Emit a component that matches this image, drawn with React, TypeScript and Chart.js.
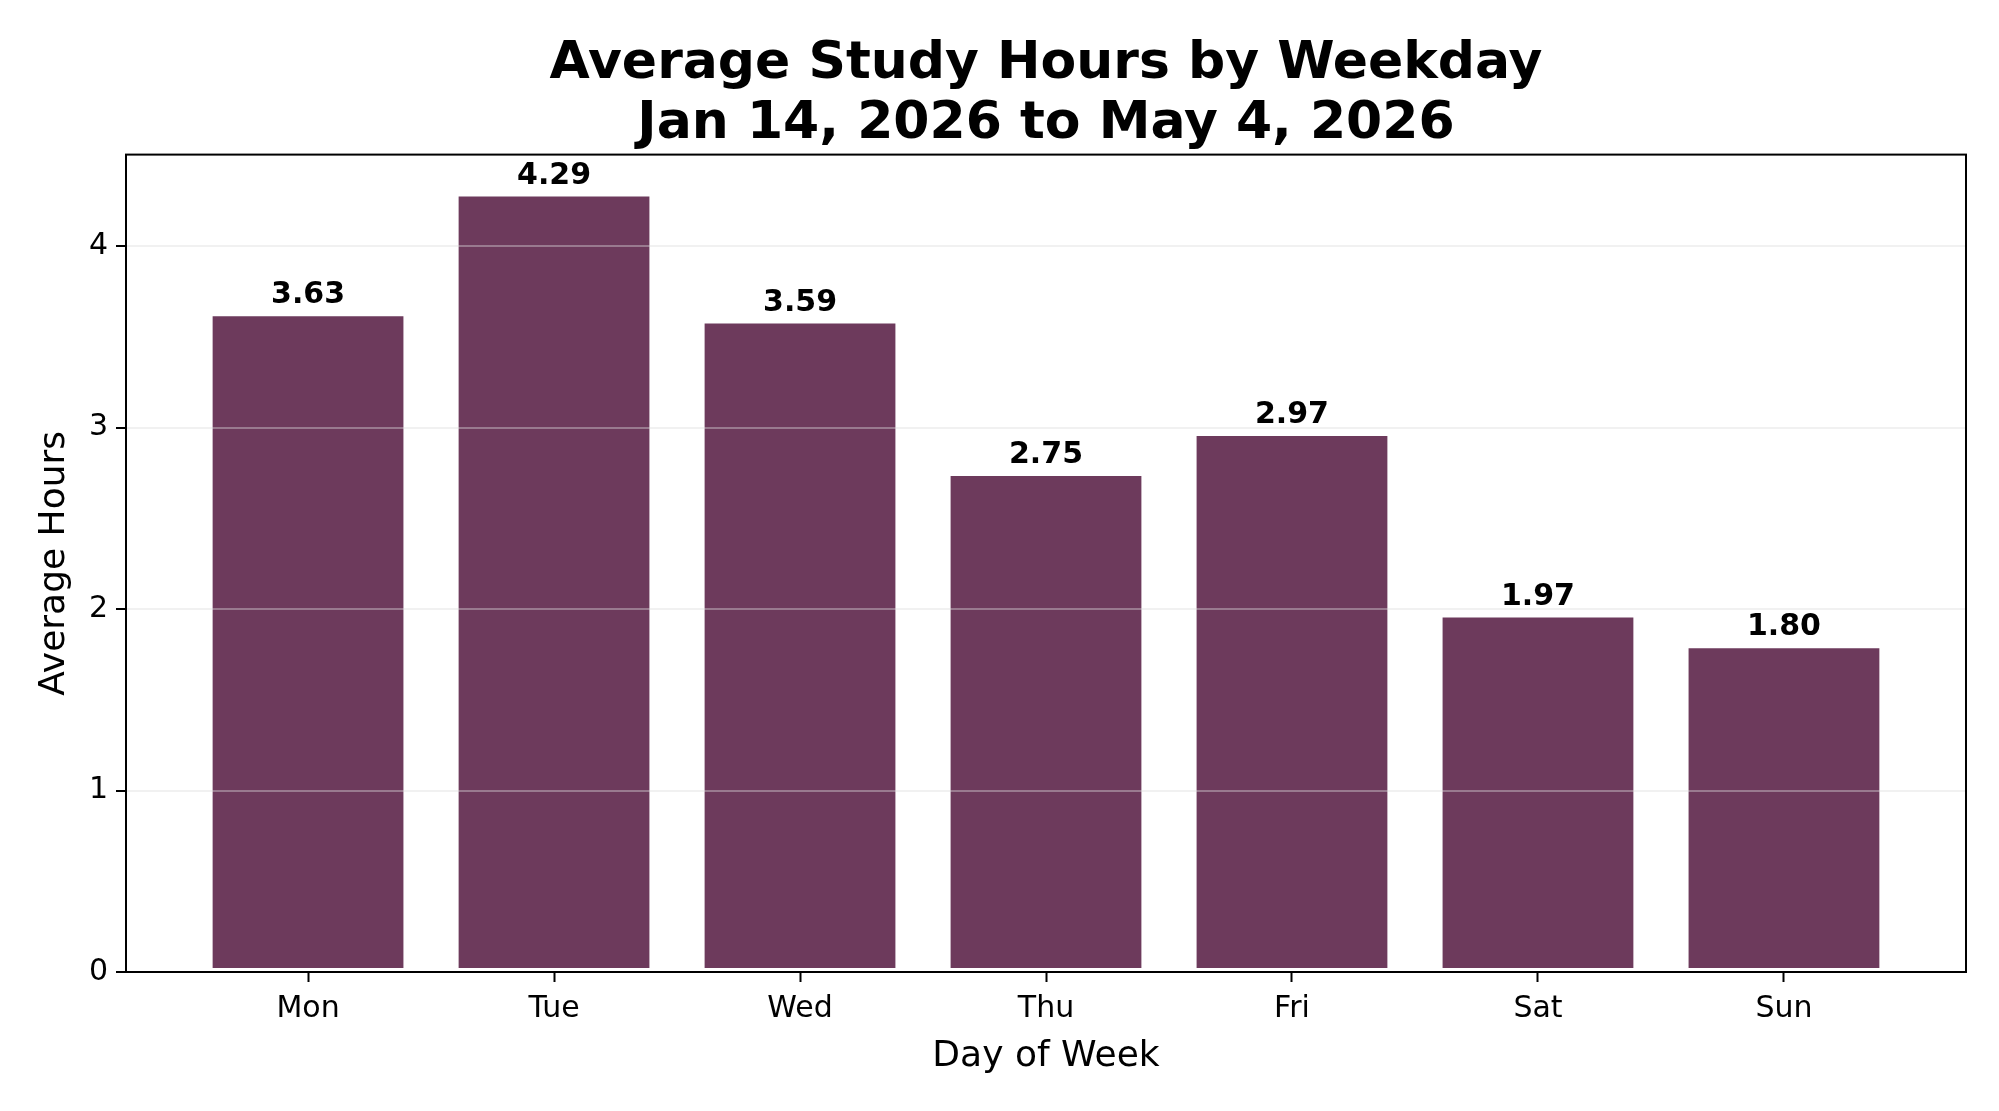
import React, { useEffect, useRef } from "react";
import { Chart, ChartConfiguration, Plugin, registerables } from "chart.js";

Chart.register(...registerables);

const days = ["Mon", "Tue", "Wed", "Thu", "Fri", "Sat", "Sun"];
const avgHours = [3.63, 4.29, 3.59, 2.75, 2.97, 1.97, 1.8];
const yTicks = [0, 1, 2, 3, 4];
const titleLines = ["Average Study Hours by Weekday", "Jan 14, 2026 to May 4, 2026"];

const FONT = "'DejaVu Sans', Verdana, sans-serif";
const BAR_COLOR = "#6d3a5c";

// box round the plot area (matplotlib style spines)
const framePlugin: Plugin<"bar"> = {
  id: "frame",
  afterDraw(chart) {
    const { ctx, chartArea: a } = chart;
    ctx.save();
    ctx.strokeStyle = "#000";
    ctx.lineWidth = 2;
    ctx.strokeRect(a.left, a.top, a.right - a.left, a.bottom - a.top);
    ctx.restore();
  },
};

// value text above every bar
const valueLabelPlugin: Plugin<"bar"> = {
  id: "valueLabels",
  afterDraw(chart) {
    const { ctx } = chart;
    const meta = chart.getDatasetMeta(0);
    ctx.save();
    ctx.fillStyle = "#000";
    ctx.font = `bold 30px ${FONT}`;
    ctx.textAlign = "center";
    ctx.textBaseline = "alphabetic";
    meta.data.forEach((bar, i) => {
      ctx.fillText(avgHours[i].toFixed(2), bar.x, bar.y - 10);
    });
    ctx.restore();
  },
};

const App: React.FC = () => {
  const chartRef = useRef<HTMLCanvasElement | null>(null);

  useEffect(() => {
    document.body.style.margin = "0";
    if (!chartRef.current) return;

    const yMax = Math.max(...avgHours) * 1.05;

    const config: ChartConfiguration<"bar"> = {
      type: "bar",
      data: {
        datasets: [
          {
            label: "Average Hours",
            data: avgHours.map((v, i) => ({ x: i, y: v })),
            backgroundColor: BAR_COLOR,
            borderColor: "rgba(255,255,255,0.9)",
            borderWidth: 3,
            borderSkipped: false,
            categoryPercentage: 1,
            barPercentage: 0.8,
          },
        ],
      },
      options: {
        animation: false,
        responsive: false,
        devicePixelRatio: 1,
        layout: { padding: { left: 0, right: 33, top: 0, bottom: 0 } },
        plugins: {
          legend: { display: false },
          tooltip: { enabled: false },
          title: {
            display: true,
            fullSize: false,
            text: titleLines,
            color: "#000",
            font: { family: FONT, size: 52, weight: "bold", lineHeight: 1.15 },
            padding: { top: 35, bottom: 0 },
          },
        },
        scales: {
          x: {
            type: "linear",
            min: -0.74,
            max: 6.74,
            offset: false,
            afterBuildTicks: (scale) => {
              scale.ticks = days.map((_, i) => ({ value: i }));
            },
            afterFit: (scale) => {
              scale.height = 139;
            },
            grid: {
              offset: false,
              drawOnChartArea: false,
              tickColor: "#000",
              tickWidth: 2,
              tickLength: 10,
            },
            border: { display: false },
            ticks: {
              color: "#000",
              font: { family: FONT, size: 30 },
              padding: 9,
              maxRotation: 0,
              autoSkip: false,
              callback: (v) => days[Number(v)] ?? "",
            },
            title: {
              display: true,
              text: "Day of Week",
              color: "#000",
              font: { family: FONT, size: 36 },
              padding: { top: 0, bottom: 33 },
            },
          },
          y: {
            min: 0,
            max: yMax,
            afterBuildTicks: (scale) => {
              scale.ticks = yTicks.map((v) => ({ value: v }));
            },
            afterFit: (scale) => {
              scale.width = 126;
            },
            grid: {
              z: 1,
              color: "rgba(220,220,220,0.4)",
              lineWidth: 2,
              tickColor: "#000",
              tickWidth: 2,
              tickLength: 10,
            },
            border: { display: false },
            ticks: {
              color: "#000",
              font: { family: FONT, size: 30 },
              padding: 8,
              callback: (v) => String(v),
            },
            title: {
              display: true,
              text: "Average Hours",
              color: "#000",
              font: { family: FONT, size: 36 },
              padding: { top: 33, bottom: 0 },
            },
          },
        },
      },
      plugins: [valueLabelPlugin, framePlugin],
    };

    const chart = new Chart(chartRef.current, config);
    return () => {
      chart.destroy();
    };
  }, []);

  return (
    <div style={{ width: 1999, height: 1111, background: "#fff" }}>
      <canvas ref={chartRef} width={1999} height={1111}></canvas>
    </div>
  );
};

export default App;
